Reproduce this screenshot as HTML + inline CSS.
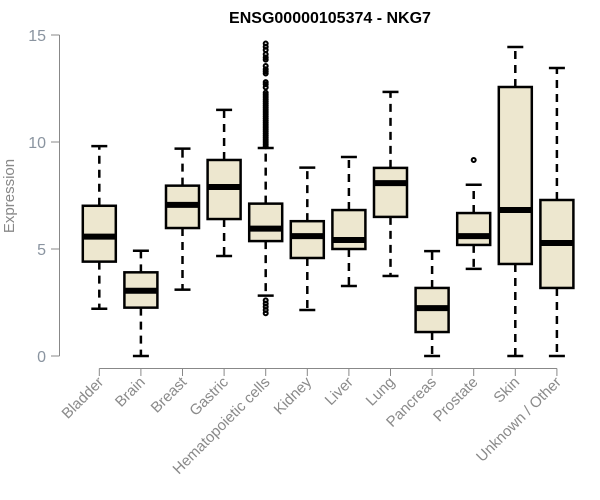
<!DOCTYPE html>
<html><head><meta charset="utf-8"><style>
body{margin:0;background:#fff}
svg{display:block;font-family:"Liberation Sans",Arial,sans-serif}
</style></head><body>
<svg id="chart" width="600" height="500">
<text x="330" y="23" text-anchor="middle" font-weight="bold" font-size="16">ENSG00000105374 - NKG7</text>
<text transform="translate(14,196) rotate(-90)" text-anchor="middle" font-size="15" fill="#888">Expression</text>
<g id="plot"></g>
</svg>
<script>
const categories=["Bladder","Brain","Breast","Gastric","Hematopoietic cells","Kidney","Liver","Lung","Pancreas","Prostate","Skin","Unknown / Other"];
const lowWhisker=[2.21,0,3.10,4.67,2.82,2.15,3.27,3.74,0,4.07,0,0];
const q1=[4.41,2.26,5.98,6.4,5.37,4.58,5.0,6.5,1.12,5.19,4.3,3.18];
const median=[5.58,3.05,7.06,7.9,5.95,5.6,5.42,8.08,2.24,5.6,6.82,5.28];
const q3=[7.02,3.91,7.96,9.16,7.12,6.3,6.82,8.79,3.18,6.68,12.57,7.29];
const highWhisker=[9.81,4.92,9.69,11.5,9.72,8.8,9.3,12.34,4.9,8.0,14.44,13.46];
const outliers=[[],[],[],[],[9.8,9.9,10,10.1,10.2,10.3,10.4,10.5,10.6,10.7,10.8,10.9,11,11.1,11.2,11.3,11.4,11.5,11.6,11.7,11.8,11.9,12,12.1,12.2,12.3,12.55,12.7,12.8,13.2,13.3,13.4,13.55,13.85,13.95,14.1,14.3,14.45,14.6,2.6,2.45,2.3,2.15,2.0],[],[],[],[],[9.16],[],[]];
const yTicks=[0,5,10,15];
const NS="http://www.w3.org/2000/svg";
const g=document.getElementById('plot');
const y=v=>356-v*21.4;
const x=i=>99.3+i*41.6;
function mk(t,a){const e=document.createElementNS(NS,t);for(const k in a)e.setAttribute(k,a[k]);g.appendChild(e);return e;}
let e=mk('line',{x1:59.5,x2:59.5,y1:y(0),y2:y(15),stroke:'#888'});


yTicks.forEach(t=>{
 let l=mk('line',{x1:51,x2:59.5,y1:y(t),y2:y(t),stroke:'#888'});
 
 
 let tx=mk('text',{x:46,y:y(t)+6,'text-anchor':'end','font-size':16,fill:'#8a94a0'});
 tx.textContent=t;
 
 
});
e=mk('line',{x1:x(0),x2:x(11),y1:368.5,y2:368.5,stroke:'#888'});


categories.forEach((c,i)=>{
 const cx=x(i),hw=16.5;
 let t=mk('line',{x1:cx,x2:cx,y1:368.5,y2:376,stroke:'#888'});
 
 
 let lb=mk('text',{transform:`translate(${cx+5},${383}) rotate(-45)`,'text-anchor':'end','font-size':15,fill:'#8a8a8a'});
 lb.textContent=c;
 
 
 let w1=mk('line',{x1:cx,x2:cx,y1:y(q3[i]),y2:y(highWhisker[i]),stroke:'#000','stroke-width':2.5,'stroke-dasharray':'8,6'});
 
 
 let w2=mk('line',{x1:cx,x2:cx,y1:y(q1[i]),y2:y(lowWhisker[i]),stroke:'#000','stroke-width':2.5,'stroke-dasharray':'8,6'});
 
 
 [highWhisker[i],lowWhisker[i]].forEach(v=>{
  let c2=mk('line',{x1:cx-8,x2:cx+8,y1:y(v),y2:y(v),stroke:'#000','stroke-width':2.5});
  
  
 });
 let b=mk('rect',{x:cx-hw,y:y(q3[i]),width:2*hw,height:y(q1[i])-y(q3[i]),fill:'#ede7cf',stroke:'#000','stroke-width':2.5});
 
 
 let m=mk('line',{x1:cx-hw,x2:cx+hw,y1:y(median[i]),y2:y(median[i]),stroke:'#000','stroke-width':6});
 
 
 outliers[i].forEach(v=>{
  let o=mk('circle',{cx:cx,cy:y(v),r:2,fill:'none',stroke:'#000','stroke-width':2});
  
  
 });
});
</script>
</body></html>
